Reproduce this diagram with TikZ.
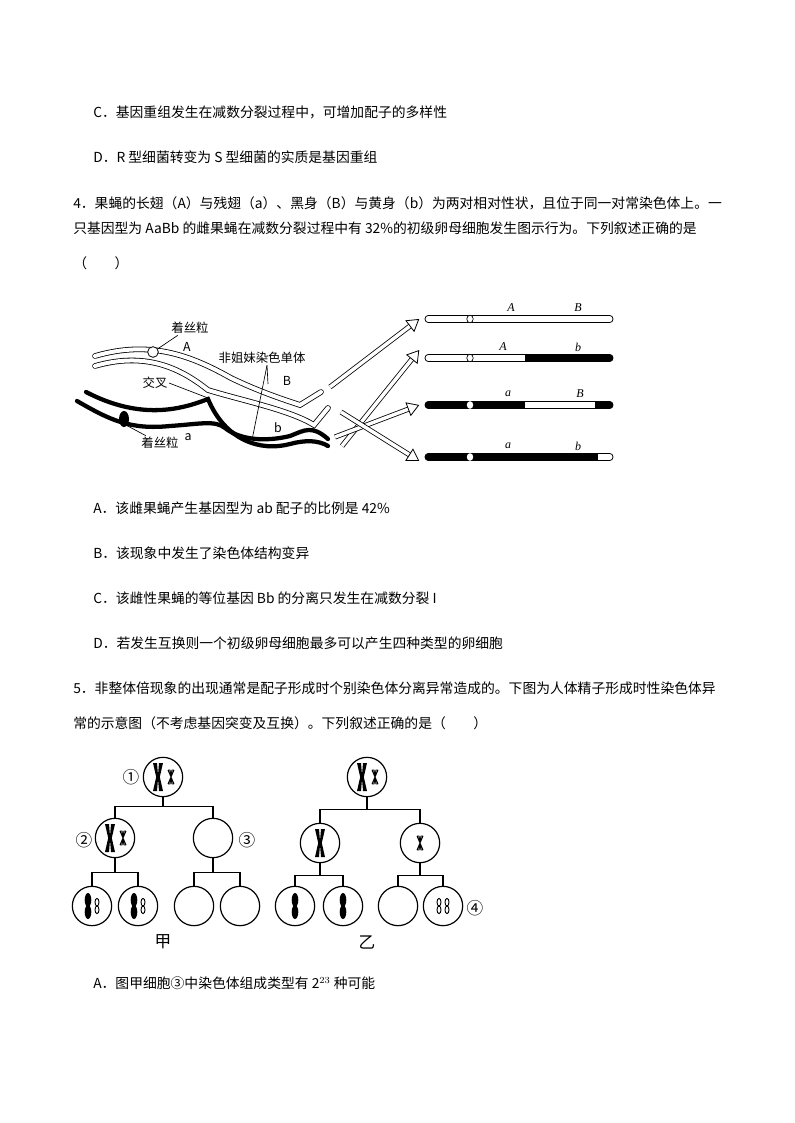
\documentclass[tikz,border=0pt]{standalone}
\usepackage{fontspec}
\setmainfont{Noto Sans CJK SC}
\newfontfamily\ser{Liberation Serif}
\usetikzlibrary{arrows.meta}
\begin{document}
\begin{tikzpicture}[x=0.75pt,y=-0.75pt,
  txt/.style={anchor=west,inner sep=0,font=\fontsize{10.35pt}{12pt}\selectfont},
  lbl/.style={inner sep=1pt,font=\fontsize{9.3pt}{10pt}\selectfont},
  num/.style={inner sep=1pt,font=\fontsize{12.5pt}{14pt}\selectfont},
  gene/.style={inner sep=0,font=\fontsize{9pt}{10pt}\ser\itshape},
  cell/.style={draw,line width=0.9pt,circle,minimum size=29.5pt,inner sep=0},
  tree/.style={line width=1pt},
  harrow/.style={double,double distance=2.6pt,line width=0.6pt,-{Triangle[open,width=11pt,length=9pt,line width=0.6pt]}},
  bar/.style={draw,line width=0.6pt,rounded corners=2.5pt,minimum width=141pt,minimum height=5.3pt,inner sep=0}]
\useasboundingbox (0,0) rectangle (794,1123);
\node[txt] (t1) at (93,112) {C．基因重组发生在减数分裂过程中，可增加配子的多样性};
\node[txt] (t2) at (93,157) {D．R 型细菌转变为 S 型细菌的实质是基因重组};
\node[txt] (t3) at (73,203) {4．果蝇的长翅（A）与残翅（a）、黑身（B）与黄身（b）为两对相对性状，且位于同一对常染色体上。一};
\node[txt] (t4) at (73,228) {只基因型为 AaBb 的雌果蝇在减数分裂过程中有 32\%的初级卵母细胞发生图示行为。下列叙述正确的是};
\node[txt] (t5) at (73,263) {（\hspace{2em}）};
\node[txt] (o1) at (93,508) {A．该雌果蝇产生基因型为 ab 配子的比例是 42\%};
\node[txt] (o2) at (93,553) {B．该现象中发生了染色体结构变异};
\node[txt] (o3) at (93,598) {C．该雌性果蝇的等位基因 Bb 的分离只发生在减数分裂 I};
\node[txt] (o4) at (93,643) {D．若发生互换则一个初级卵母细胞最多可以产生四种类型的卵细胞};
\node[txt] (t6) at (73,688) {5．非整体倍现象的出现通常是配子形成时个别染色体分离异常造成的。下图为人体精子形成时性染色体异};
\node[txt] (t7) at (73,723) {常的示意图（不考虑基因突变及互换）。下列叙述正确的是（\hspace{2em}）};
\node[txt] (o5) at (93,983) {A．图甲细胞③中染色体组成类型有 2$^{23}$ 种可能};

% ---- crossing-over diagram ----
\draw[line width=3.2pt,line cap=round] (86,392) .. controls (140,420) and (180,410) .. (208,399) .. controls (225,440) and (260,452) .. (290,444) .. controls (305,440) and (318,440) .. (328,446);
\draw[line width=3.2pt,line cap=round] (77,401) .. controls (110,420) and (130,430) .. (170,426) .. controls (200,424) and (215,420) .. (225,428) .. controls (240,440) and (265,442) .. (290,436) .. controls (305,430) and (312,425) .. (328,439);
\fill (124,419) ellipse (5 and 8);
\foreach \p in {
  {(95,356) .. controls (150,340) and (190,355) .. (231,378) .. controls (260,392) and (285,400) .. (300,405) -- (321,392)},
  {(95,366) .. controls (150,350) and (185,372) .. (208,390) .. controls (240,400) and (290,410) .. (314,425) -- (328,408)}}
  {\draw[double=white,double distance=3pt,line width=0.6pt,line cap=round] \p;}
\node[draw,circle,fill=white,minimum size=8pt,inner sep=0,line width=0.6pt] (c1) at (153,352) {};
\node[lbl] (l1) at (190,328) {着丝粒};
\draw[line width=0.5pt] (l1.south west) ++(8,0) -- (c1);
\node[lbl] (l2) at (155,383) {交叉};
\coordinate (x1) at (208,398);
\draw[line width=0.5pt] (l2.east) -- (x1);
\node[lbl] (l3) at (262,358) {非姐妹染色单体};
\coordinate (n1) at (268,384);
\coordinate (n2) at (252,440);
\draw[line width=0.5pt] (l3.south) ++(5,0) -- (n1);
\draw[line width=0.5pt] (l3.south) ++(5,0) -- (n2);
\node[lbl] (la) at (187,347) {A};
\node[lbl] (lb) at (287,381) {B};
\node[lbl] (lc) at (188,437) {a};
\node[lbl] (ld) at (278,428) {b};
\node[lbl] (l4) at (160,443) {着丝粒};
\coordinate (c2) at (124,424);
\draw[line width=0.5pt] (l4.north west) ++(6,0) -- (c2);

% result bars
\node[bar] (r1) at (519,319) {};
\node[bar] (r2) at (519,358) {};
\node[bar] (r3) at (519,405) {};
\node[bar] (r4) at (519,457) {};
\fill[rounded corners=2.5pt] (525,354.5) -- (613,354.5) -- (613,361.5) -- (525,361.5) -- cycle;
\fill (525,354.5) rectangle (530,361.5);
\fill[rounded corners=2.5pt] (425,401.5) -- (525,401.5) -- (525,408.5) -- (425,408.5) -- cycle;
\fill (520,401.5) rectangle (525,408.5);
\fill[rounded corners=2.5pt] (595,401.5) -- (613,401.5) -- (613,408.5) -- (595,408.5) -- cycle;
\fill (595,401.5) rectangle (600,408.5);
\fill[rounded corners=2.5pt] (425,453.5) -- (598,453.5) -- (598,460.5) -- (425,460.5) -- cycle;
\fill (593,453.5) rectangle (598,460.5);
\foreach \y in {319,358}{\draw[fill=white,line width=0.5pt] (470,\y) ellipse (3.2 and 3.8);}
\foreach \y in {405,457}{\fill[white] (470,\y) ellipse (3.2 and 3.8);}
\node[gene] at (511,308) {A}; \node[gene] at (578,308) {B};
\node[gene] at (503,347) {A}; \node[gene] at (578,347) {b};
\node[gene] at (508,394) {a}; \node[gene] at (580,394) {B};
\node[gene] at (508,446) {a}; \node[gene] at (578,446) {b};
\coordinate (s1) at (330,387); \coordinate (s2) at (342,446);
\coordinate (s3) at (335,437); \coordinate (s4) at (341,412);
\draw[harrow] (s1) -- ([xshift=-4]r1.west);
\draw[harrow] (s2) -- ([xshift=-4,yshift=6]r2.west);
\draw[harrow] (s3) -- ([xshift=-4]r3.west);
\draw[harrow] (s4) -- ([xshift=-4,yshift=-3]r4.west);

% ---- meiosis tree ----
\tikzset{
 pics/bigX/.style={code={\fill (-5,-14) -- (-1.8,0) -- (-5,14) -- (-1,14) -- (0,2) -- (1,14) -- (5,14) -- (1.8,0) -- (5,-14) -- (1,-14) -- (0,-2) -- (-1,-14) -- cycle;}},
 pics/smX/.style={code={\draw[line width=0.7pt] (-3,-7) -- (0,0) -- (-3,7) (3,-7) -- (0,0) -- (3,7) (-3,-7) -- (-1,-7) -- (0,-1) (3,-7) -- (1,-7) -- (0,-1) (-3,7) -- (-1,7) -- (0,1) (3,7) -- (1,7) -- (0,1);}},
 pics/rod/.style={code={\fill (0,-6) ellipse (3.3 and 7) (0,6) ellipse (3.3 and 7);}},
 pics/smrod/.style={code={\draw[line width=0.7pt] (0,-3.8) ellipse (2 and 3.8) (0,3.8) ellipse (2 and 3.8);}}
}
\node[cell] (a1) at (163,777) {}; \pic at (158,777) {bigX}; \pic at (171,777) {smX};
\node[cell] (a2) at (115,838) {}; \pic at (110,838) {bigX}; \pic at (123,838) {smX};
\node[cell] (a3) at (213,838) {};
\node[cell] (a4) at (92,906) {}; \pic at (88,906) {rod}; \pic at (97,906) {smrod};
\node[cell] (a5) at (138,906) {}; \pic at (134,906) {rod}; \pic at (143,906) {smrod};
\node[cell] (a6) at (194,906) {};
\node[cell] (a7) at (240,906) {};
\draw[tree] (a1.south) -- ++(0,9) -| (a2.north);
\draw[tree] (a1.south) ++(0,9) -| (a3.north);
\draw[tree] (a2.south) -- ++(0,14) -| (a4.north);
\draw[tree] (a2.south) ++(0,14) -| (a5.north);
\draw[tree] (a3.south) -- ++(0,14) -| (a6.north);
\draw[tree] (a3.south) ++(0,14) -| (a7.north);
\node[num] (m1) at (131,777) {①};
\node[num] (m2) at (84,840) {②};
\node[num] (m3) at (247,840) {③};
\node[num] (m5) at (163,942) {甲};

\node[cell] (b1) at (367,777) {}; \pic at (362,777) {bigX}; \pic at (375,777) {smX};
\node[cell] (b2) at (320,843) {}; \pic at (320,843) {bigX};
\node[cell] (b3) at (420,843) {}; \pic at (420,843) {smX};
\node[cell] (b4) at (295,906) {}; \pic at (295,906) {rod};
\node[cell] (b5) at (343,906) {}; \pic at (343,906) {rod};
\node[cell] (b6) at (398,906) {};
\node[cell] (b7) at (443,906) {}; \pic at (439,906) {smrod}; \pic at (447,906) {smrod};
\draw[tree] (b1.south) -- ++(0,12) -| (b2.north);
\draw[tree] (b1.south) ++(0,12) -| (b3.north);
\draw[tree] (b2.south) -- ++(0,12) -| (b4.north);
\draw[tree] (b2.south) ++(0,12) -| (b5.north);
\draw[tree] (b3.south) -- ++(0,12) -| (b6.north);
\draw[tree] (b3.south) ++(0,12) -| (b7.north);
\node[num] (m4) at (475,908) {④};
\node[num] (m6) at (367,942) {乙};
\end{tikzpicture}
\end{document}
